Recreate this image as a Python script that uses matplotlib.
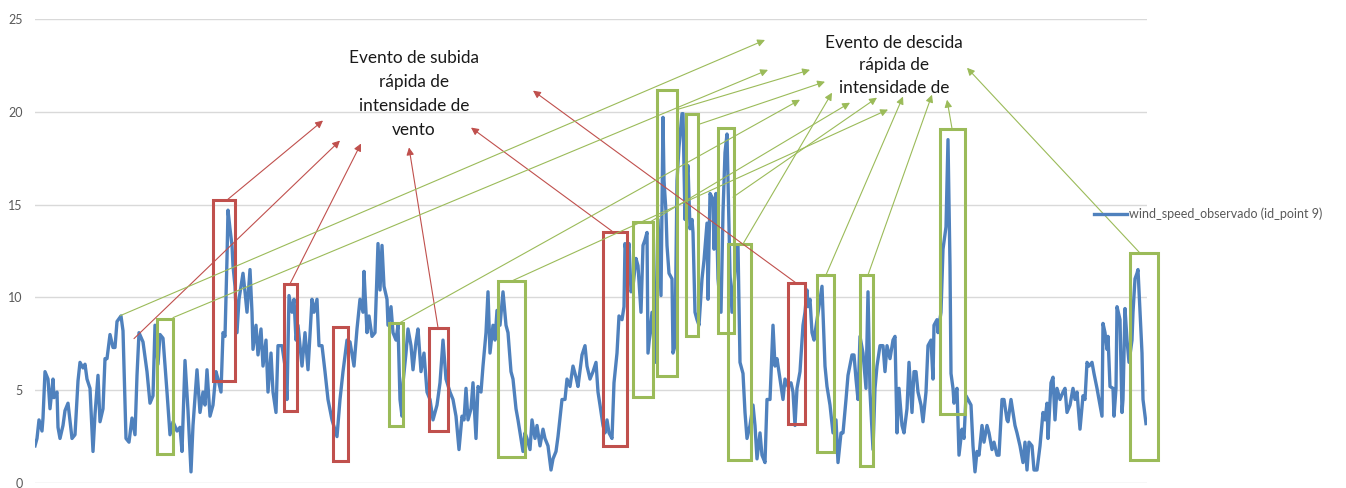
import matplotlib
matplotlib.use("Agg")
import matplotlib.pyplot as plt
from matplotlib.patches import Rectangle

# série observada (indice da amostra, velocidade do vento m/s)
amostra = [35, 37, 39, 42, 43, 45, 48, 50, 53, 54, 57, 58, 60, 63, 65, 68, 72, 75, 78, 80,
           83, 85, 87, 90, 93, 95, 98, 100, 103, 105, 107, 110, 113, 115, 117, 121, 123, 126, 129, 132,
           135, 137, 139, 143, 147, 150, 153, 155, 158, 160, 163, 167, 170, 173, 177, 180, 182, 185, 188, 191,
           193, 197, 200, 203, 205, 207, 210, 213, 216, 218, 221, 223, 225, 227, 228, 230, 232, 233, 235, 237,
           239, 243, 245, 247, 250, 252, 253, 256, 258, 261, 263, 266, 268, 271, 273, 276, 278, 282, 285, 287,
           289, 292, 294, 296, 298, 302, 305, 308, 312, 314, 317, 319, 322, 325, 328, 332, 337, 340, 343, 347,
           350, 354, 357, 360, 363, 364, 367, 369, 372, 375, 378, 380, 382, 384, 387, 388, 391, 393, 396, 398,
           400, 402, 403, 406, 408, 411, 413, 416, 418, 421, 424, 427, 430, 433, 437, 440, 443, 446, 450, 453,
           456, 459, 462, 464, 466, 468, 471, 473, 476, 478, 481, 483, 486, 488, 490, 493, 495, 497, 500, 503,
           506, 508, 511, 513, 516, 518, 521, 523, 525, 527, 530, 532, 535, 537, 540, 543, 545, 548, 551, 553,
           556, 558, 562, 565, 567, 570, 573, 576, 578, 582, 585, 587, 590, 593, 596, 598, 600, 603, 605, 607,
           609, 612, 614, 617, 619, 622, 624, 625, 627, 629, 631, 633, 636, 638, 641, 643, 645, 647, 648, 652,
           655, 658, 661, 663, 664, 666, 667, 669, 672, 673, 675, 677, 679, 682, 683, 685, 687, 688, 690, 692,
           693, 695, 697, 699, 702, 704, 707, 708, 710, 713, 714, 716, 718, 721, 723, 725, 727, 728, 730, 732,
           734, 737, 738, 740, 743, 745, 747, 750, 753, 755, 757, 760, 762, 765, 767, 770, 773, 775, 777, 780,
           783, 785, 788, 791, 793, 795, 797, 800, 803, 805, 807, 808, 810, 812, 814, 817, 819, 822, 823, 825,
           827, 830, 833, 836, 838, 841, 843, 846, 848, 852, 854, 856, 858, 860, 863, 866, 868, 870, 873, 875,
           877, 880, 883, 885, 887, 890, 893, 895, 897, 899, 902, 904, 907, 909, 912, 914, 916, 918, 921, 923,
           926, 928, 931, 933, 934, 937, 938, 941, 943, 946, 948, 950, 951, 953, 954, 956, 957, 959, 962, 964,
           966, 968, 971, 973, 975, 977, 979, 982, 984, 987, 989, 992, 994, 997, 999, 1002, 1004, 1007, 1008, 1011,
           1013, 1015, 1017, 1020, 1023, 1025, 1027, 1029, 1032, 1034, 1037, 1040, 1043, 1045, 1047, 1048, 1051, 1053, 1055, 1057,
           1060, 1063, 1065, 1067, 1070, 1073, 1075, 1077, 1080, 1083, 1085, 1087, 1089, 1092, 1094, 1097, 1099, 1102, 1103, 1105,
           1107, 1108, 1110, 1113, 1114, 1116, 1117, 1120, 1122, 1123, 1125, 1127, 1129, 1132, 1133, 1135, 1137, 1138, 1140, 1142,
           1143, 1146]

wind_speed = [2.0, 2.4, 3.4, 2.8, 3.5, 6.0, 5.6, 4.0, 5.6, 4.6, 4.9, 3.0, 2.4, 3.1, 3.9, 4.3, 2.4, 2.6, 5.5, 6.5,
              6.2, 6.4, 5.6, 5.1, 1.7, 3.7, 5.8, 3.3, 4.0, 6.7, 6.7, 8.0, 7.3, 7.3, 8.7, 9.0, 8.2, 2.4, 2.2, 3.5,
              2.6, 5.8, 8.1, 7.6, 6.0, 4.3, 4.7, 8.5, 6.4, 8.0, 7.8, 4.9, 2.6, 3.3, 2.8, 3.0, 1.7, 6.6, 3.9, 0.6,
              3.1, 6.1, 3.8, 4.9, 4.2, 6.1, 3.6, 4.2, 6.0, 5.6, 4.9, 8.1, 7.9, 12.1, 14.7, 13.7, 12.8, 11.7, 10.6, 8.1,
              9.9, 11.3, 10.3, 9.2, 11.5, 9.2, 7.2, 8.5, 6.9, 8.3, 6.3, 7.7, 4.9, 7.0, 4.9, 3.8, 7.4, 7.4, 6.3, 4.5,
              10.1, 9.2, 9.9, 7.7, 8.5, 6.3, 8.1, 6.1, 9.9, 9.2, 9.9, 7.4, 7.4, 6.0, 4.5, 3.4, 2.5, 4.5, 6.0, 7.7,
              7.6, 6.3, 8.3, 9.9, 9.2, 11.4, 8.1, 9.0, 7.9, 8.1, 12.9, 10.4, 12.8, 10.6, 9.9, 8.5, 9.5, 8.1, 7.7, 8.5,
              4.5, 3.6, 5.4, 7.0, 8.3, 7.4, 6.1, 7.6, 8.3, 6.0, 7.0, 4.9, 4.5, 3.4, 4.2, 5.4, 7.7, 5.6, 4.9, 4.5,
              3.6, 1.8, 3.6, 3.4, 5.1, 3.4, 4.0, 5.4, 2.4, 5.2, 4.9, 6.3, 8.1, 10.3, 7.0, 8.5, 7.7, 9.3, 8.5, 10.3,
              8.5, 8.1, 6.0, 5.6, 4.0, 3.4, 2.4, 1.7, 2.7, 2.4, 1.8, 3.4, 2.4, 3.1, 2.0, 2.9, 2.4, 2.0, 0.7, 1.3,
              1.7, 2.5, 4.5, 4.5, 5.6, 5.2, 6.3, 5.7, 5.2, 6.9, 7.4, 6.3, 5.6, 6.0, 6.5, 4.9, 4.2, 3.1, 2.7, 3.4,
              2.7, 2.4, 5.4, 7.0, 9.0, 8.8, 9.5, 12.9, 12.1, 12.9, 10.3, 10.6, 12.1, 11.7, 9.2, 12.8, 13.1, 13.5, 7.0, 9.2,
              6.5, 14.2, 10.1, 19.7, 16.3, 14.6, 12.8, 11.3, 11.0, 7.0, 7.4, 16.3, 18.1, 19.9, 19.9, 14.2, 16.5, 17.1, 13.7, 14.2,
              13.5, 9.2, 8.8, 8.5, 11.0, 12.0, 14.0, 9.9, 15.6, 15.3, 12.6, 15.6, 11.0, 9.2, 14.6, 17.8, 18.8, 16.3, 11.3, 9.2,
              10.6, 12.8, 12.8, 6.5, 5.9, 3.8, 2.4, 3.1, 4.2, 3.1, 1.3, 2.7, 1.5, 1.1, 4.5, 4.5, 8.5, 6.3, 6.7, 5.6,
              4.5, 5.6, 5.2, 5.4, 4.9, 3.1, 5.1, 6.0, 8.5, 9.2, 10.4, 9.5, 9.9, 8.1, 7.7, 8.8, 9.5, 10.6, 9.2, 6.3,
              5.2, 4.2, 2.7, 3.4, 1.1, 2.7, 2.7, 4.5, 5.8, 6.9, 6.9, 5.6, 4.5, 7.9, 7.0, 5.1, 10.3, 4.9, 1.8, 5.1,
              6.3, 7.4, 7.4, 6.0, 7.4, 6.7, 7.7, 7.9, 2.7, 5.1, 3.1, 2.7, 4.0, 6.5, 3.8, 6.0, 6.0, 4.9, 4.2, 3.3,
              4.9, 7.4, 7.7, 5.6, 8.5, 8.8, 8.1, 9.2, 12.6, 13.8, 18.5, 11.7, 5.9, 5.1, 4.3, 4.9, 5.1, 1.5, 2.9, 2.4,
              4.7, 4.5, 4.2, 2.0, 0.6, 1.7, 1.5, 3.1, 2.2, 3.1, 2.7, 1.8, 2.2, 1.5, 1.5, 4.5, 4.5, 3.4, 3.3, 4.5,
              3.8, 3.1, 2.7, 2.0, 1.1, 2.2, 0.7, 2.2, 2.0, 0.7, 0.7, 2.0, 3.8, 3.4, 4.3, 2.4, 5.4, 5.7, 3.4, 5.1,
              4.5, 4.9, 5.1, 3.8, 4.2, 5.1, 4.5, 4.9, 2.9, 4.7, 4.5, 6.5, 6.3, 6.5, 5.9, 5.1, 4.5, 3.6, 8.6, 8.1,
              7.2, 7.9, 5.2, 5.1, 3.6, 5.1, 9.5, 8.8, 3.8, 4.5, 9.4, 7.7, 6.5, 7.7, 9.2, 11.0, 11.3, 11.5, 9.2, 7.0,
              4.5, 3.2]

# caixas dos eventos: (inicio, fim, v_min, v_max)
caixas_subida = [(213, 235, 5.47, 15.24), (284, 297, 3.86, 10.73), (333, 348, 1.18, 8.42),
                 (429, 448, 2.79, 8.37), (603, 627, 1.98, 13.52), (788, 805, 3.17, 10.78)]
caixas_descida = [(157, 173, 1.56, 8.85), (389, 403, 3.06, 8.64), (498, 525, 1.39, 10.89),
                  (633, 653, 4.61, 14.06), (657, 677, 5.74, 21.19), (686, 698, 7.94, 19.90),
                  (718, 734, 8.10, 19.15), (728, 751, 1.23, 12.88), (817, 834, 1.66, 11.21),
                  (860, 873, 0.91, 11.21), (940, 965, 3.70, 19.10), (1130, 1158, 1.23, 12.39)]

# setas: (x_origem, v_origem, x_ponta, v_ponta)
setas_subida = [(228, 15.29, 323, 19.53), (134, 7.78, 340, 18.45), (290, 10.73, 361, 18.29),
                (438, 8.37, 409, 18.08), (612, 13.57, 471, 19.15), (796, 10.78, 533, 21.14)]
setas_descida = [(120, 9.01, 765, 23.87), (173, 8.91, 768, 22.26), (400, 8.64, 800, 20.65),
                 (512, 10.89, 888, 20.12), (650, 14.06, 850, 20.49), (677, 20.12, 810, 22.26),
                 (698, 19.31, 825, 21.62), (733, 15.40, 877, 20.76), (743, 12.88, 832, 21.03),
                 (826, 11.21, 903, 20.82), (868, 11.21, 932, 20.92), (952, 19.10, 947, 20.65),
                 (1140, 12.39, 967, 22.37)]

texto_subida = "Evento de subida\nrápida de\nintensidade de\nvento"
texto_descida = "Evento de descida\nrápida de\nintensidade de"
legenda = "wind_speed_observado (id_point 9)"

AZUL = "#4F81BD"
VERMELHO = "#C0504D"
VERDE = "#9BBB59"
CINZA = "#595959"

plt.rcParams['font.family'] = ['Lato', 'DejaVu Sans']

fig = plt.figure(figsize=(13.46, 4.88), dpi=100)
ax = fig.add_axes([35 / 1346, 1 - 483 / 488, (1147 - 35) / 1346, (483 - 19) / 488])

ax.plot(amostra, wind_speed, color=AZUL, linewidth=2.4, label=legenda, zorder=3,
        solid_joinstyle="round")

for x0, x1, y0, y1 in caixas_subida:
    ax.add_patch(Rectangle((x0, y0), x1 - x0, y1 - y0, fill=False, edgecolor=VERMELHO,
                           linewidth=2.2, clip_on=False, zorder=4))
for x0, x1, y0, y1 in caixas_descida:
    ax.add_patch(Rectangle((x0, y0), x1 - x0, y1 - y0, fill=False, edgecolor=VERDE,
                           linewidth=2.2, clip_on=False, zorder=4))

for xa, ya, xb, yb in setas_subida:
    ax.annotate("", xy=(xb, yb), xytext=(xa, ya),
                arrowprops=dict(arrowstyle="-|>", color=VERMELHO, lw=0.8,
                                mutation_scale=11, shrinkA=0, shrinkB=0), zorder=5)
for xa, ya, xb, yb in setas_descida:
    ax.annotate("", xy=(xb, yb), xytext=(xa, ya),
                arrowprops=dict(arrowstyle="-|>", color=VERDE, lw=0.8,
                                mutation_scale=11, shrinkA=0, shrinkB=0), zorder=5)

ax.text(414, 20.95, texto_subida, ha="center", va="center", fontsize=12.4,
        color="#1a1a1a", linespacing=1.62, zorder=6)
ax.text(894, 22.5, texto_descida, ha="center", va="center", fontsize=12.4,
        color="#1a1a1a", linespacing=1.52, zorder=6)

ax.set_xlim(35, 1147)
ax.set_ylim(0, 25)
ax.set_yticks([0, 5, 10, 15, 20, 25])
ax.set_xticks([])
ax.tick_params(axis="y", length=0, pad=9, labelsize=9, labelcolor=CINZA)
ax.grid(axis="y", color="#D9D9D9", linewidth=1)
ax.set_axisbelow(True)
for s in ax.spines.values():
    s.set_visible(False)

fig.legend(loc="center left", bbox_to_anchor=(1088 / 1346, 1 - 214 / 488), frameon=False,
           fontsize=9, handlelength=2.6, handletextpad=0.15, borderpad=0,
           labelcolor=CINZA)

fig.savefig("out.png", dpi=100)
